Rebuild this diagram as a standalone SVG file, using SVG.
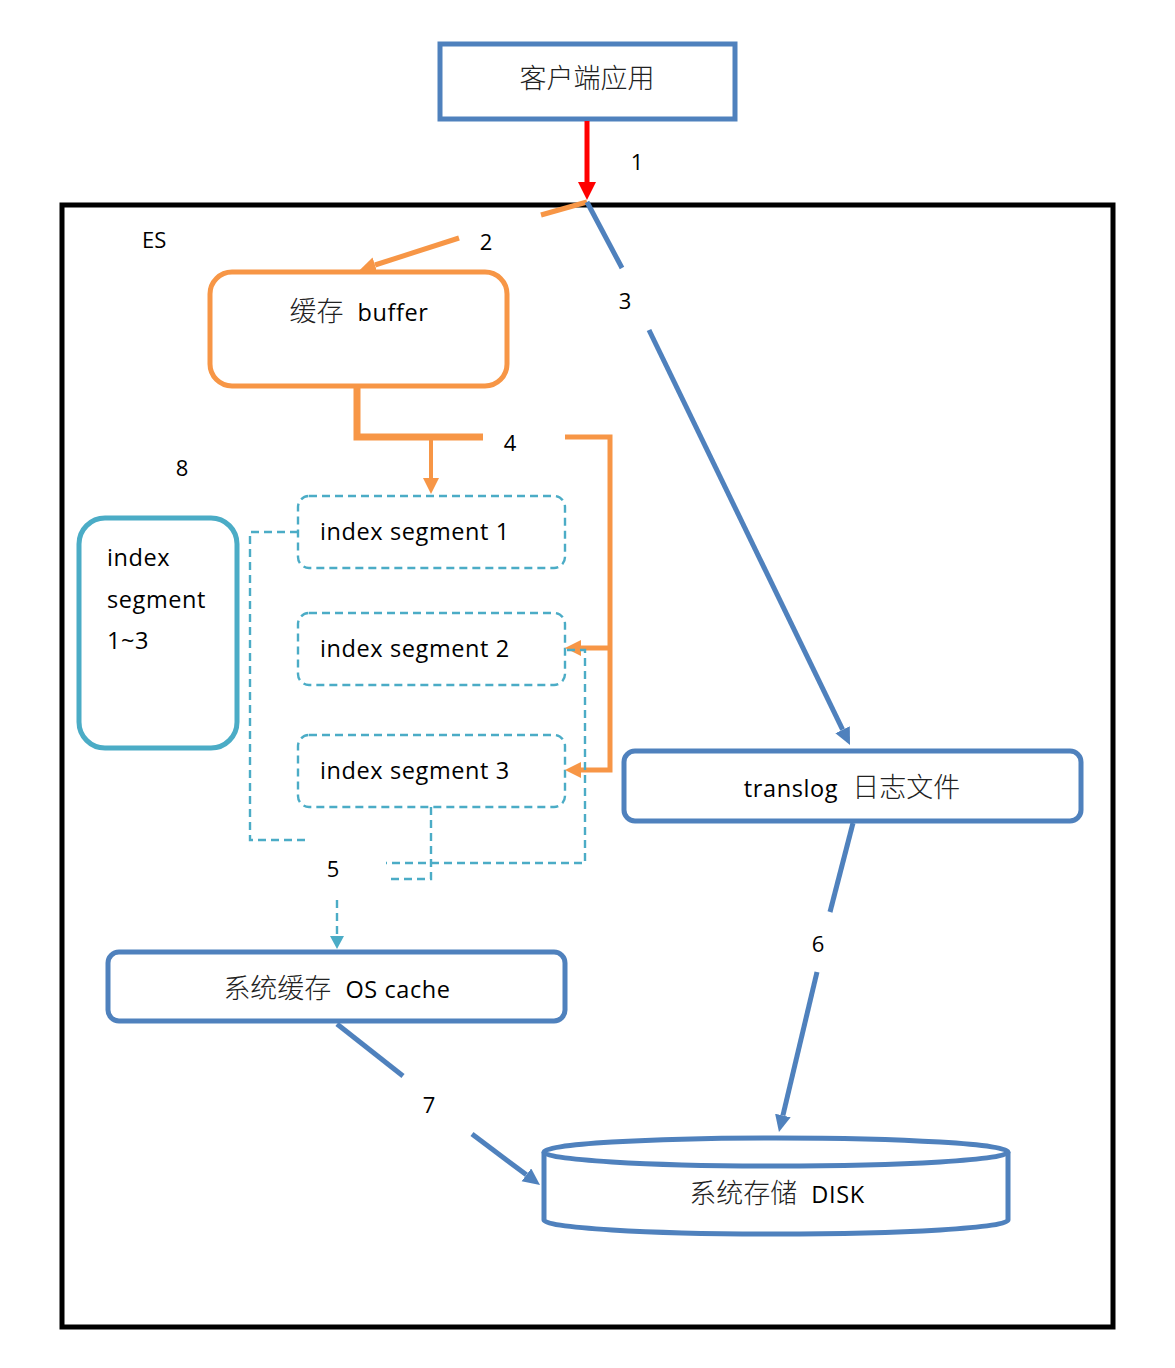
<svg xmlns="http://www.w3.org/2000/svg" width="1175" height="1368" viewBox="0 0 1175 1368">
<style>
.blue{fill:#fff;stroke:#4F81BD;stroke-width:5}
.seg{fill:none;stroke:#4BACC6;stroke-width:2.4;stroke-dasharray:8 5}
.t{font-family:"Open Sans","Noto Sans CJK SC",sans-serif;font-size:23.5px;fill:#000;letter-spacing:0.6px}
.cn{font-family:"Noto Sans CJK SC",sans-serif;font-size:27px;fill:#222;font-weight:300}
.lb{font-family:"Open Sans",sans-serif;font-size:22px;fill:#000}
</style>
<defs>
<marker id="ar" markerUnits="userSpaceOnUse" markerWidth="20" markerHeight="20" refX="0" refY="9" orient="auto"><path d="M0,0 L18,9 L0,18z" fill="#FF0000"/></marker>
<marker id="ao" markerUnits="userSpaceOnUse" markerWidth="18" markerHeight="18" refX="0" refY="8" orient="auto"><path d="M0,0 L16,8 L0,16z" fill="#F79646"/></marker>
<marker id="ab" markerUnits="userSpaceOnUse" markerWidth="18" markerHeight="18" refX="0" refY="8" orient="auto"><path d="M0,0 L17,8 L0,16z" fill="#4F81BD"/></marker>
<marker id="at" markerUnits="userSpaceOnUse" markerWidth="14" markerHeight="14" refX="0" refY="7" orient="auto"><path d="M0,0 L13,7 L0,14z" fill="#4BACC6"/></marker>
</defs>
<rect width="1175" height="1368" fill="#fff"/>
<g id="es-frame">
<rect x="62" y="205" width="1051" height="1122" fill="none" stroke="#000" stroke-width="5"/>
<text class="lb" x="142" y="248">ES</text>
</g>
<g id="client">
<rect class="blue" x="440" y="44" width="295" height="75"/>
<text class="cn" x="587" y="88" text-anchor="middle">客户端应用</text>
</g>
<g id="buffer">
<rect x="210" y="272" width="297" height="114" rx="22" fill="#fff" stroke="#F79646" stroke-width="5"/>
<text x="359" y="321" text-anchor="middle"><tspan class="cn">缓存</tspan><tspan class="t" dx="14">buffer</tspan></text>
</g>
<g id="seg1">
<rect class="seg" x="298" y="496" width="267" height="72" rx="11"/>
<text class="t" x="320" y="540">index segment 1</text>
</g>
<g id="seg2">
<rect class="seg" x="298" y="613" width="267" height="72" rx="11"/>
<text class="t" x="320" y="657">index segment 2</text>
</g>
<g id="seg3">
<rect class="seg" x="298" y="735" width="267" height="72" rx="11"/>
<text class="t" x="320" y="779">index segment 3</text>
</g>
<g id="segall">
<rect x="79" y="518" width="158" height="230" rx="26" fill="#fff" stroke="#4BACC6" stroke-width="5"/>
<text class="t" x="107" y="566">index</text>
<text class="t" x="107" y="608">segment</text>
<text class="t" x="107" y="649">1~3</text>
</g>
<g id="translog">
<rect class="blue" x="624" y="751" width="457" height="70" rx="11"/>
<text x="852" y="797" text-anchor="middle"><tspan class="t">translog</tspan><tspan class="cn" dx="14">日志文件</tspan></text>
</g>
<g id="oscache">
<rect class="blue" x="108" y="952" width="457" height="69" rx="11"/>
<text x="337" y="998" text-anchor="middle"><tspan class="cn">系统缓存</tspan><tspan class="t" dx="14">OS cache</tspan></text>
</g>
<g id="disk">
<path d="M544,1152 V1220 A232,14 0 0 0 1008,1220 V1152" fill="#fff" stroke="#4F81BD" stroke-width="5"/>
<ellipse cx="776" cy="1152" rx="232" ry="14" fill="#fff" stroke="#4F81BD" stroke-width="5"/>
<text x="777" y="1203" text-anchor="middle"><tspan class="cn">系统存储</tspan><tspan class="t" dx="14">DISK</tspan></text>
</g>
<g id="connectors" fill="none">
<line x1="587" y1="121" x2="587" y2="182" stroke="#FF0000" stroke-width="5" marker-end="url(#ar)"/>
<line x1="587" y1="202" x2="541" y2="215" stroke="#F79646" stroke-width="5"/>
<line x1="459" y1="238" x2="375" y2="265" stroke="#F79646" stroke-width="5" marker-end="url(#ao)"/>
<line x1="587" y1="202" x2="622" y2="268" stroke="#4F81BD" stroke-width="5"/>
<line x1="649" y1="330" x2="842.6" y2="729.7" stroke="#4F81BD" stroke-width="5" marker-end="url(#ab)"/>
<polyline points="357,386 357,437 483,437" stroke="#F79646" stroke-width="7"/>
<line x1="431" y1="437" x2="431" y2="478" stroke="#F79646" stroke-width="4" marker-end="url(#ao)"/>
<polyline points="565,437 610,437 610,770 581,770" stroke="#F79646" stroke-width="5" marker-end="url(#ao)"/>
<line x1="610" y1="648" x2="581" y2="648" stroke="#F79646" stroke-width="5" marker-end="url(#ao)"/>
<polyline class="seg" points="298,532 250,532 250,840 305,840"/>
<polyline class="seg" points="567,650 585,650 585,863 386,863"/>
<polyline class="seg" points="431,807 431,879 386,879"/>
<line class="seg" x1="337" y1="900" x2="337" y2="936" marker-end="url(#at)"/>
<line x1="853" y1="823" x2="830" y2="912" stroke="#4F81BD" stroke-width="5"/>
<line x1="817" y1="972" x2="782.9" y2="1115.5" stroke="#4F81BD" stroke-width="5" marker-end="url(#ab)"/>
<line x1="337" y1="1024" x2="403" y2="1076" stroke="#4F81BD" stroke-width="5"/>
<line x1="472" y1="1134" x2="526.4" y2="1174.8" stroke="#4F81BD" stroke-width="5" marker-end="url(#ab)"/>
<text class="lb" x="637" y="170" text-anchor="middle" stroke="none" fill="#000">1</text>
<text class="lb" x="486" y="250" text-anchor="middle" stroke="none" fill="#000">2</text>
<text class="lb" x="625" y="309" text-anchor="middle" stroke="none" fill="#000">3</text>
<text class="lb" x="510" y="451" text-anchor="middle" stroke="none" fill="#000">4</text>
<text class="lb" x="333" y="877" text-anchor="middle" stroke="none" fill="#000">5</text>
<text class="lb" x="818" y="952" text-anchor="middle" stroke="none" fill="#000">6</text>
<text class="lb" x="429" y="1113" text-anchor="middle" stroke="none" fill="#000">7</text>
<text class="lb" x="182" y="476" text-anchor="middle" stroke="none" fill="#000">8</text>
</g>
</svg>
